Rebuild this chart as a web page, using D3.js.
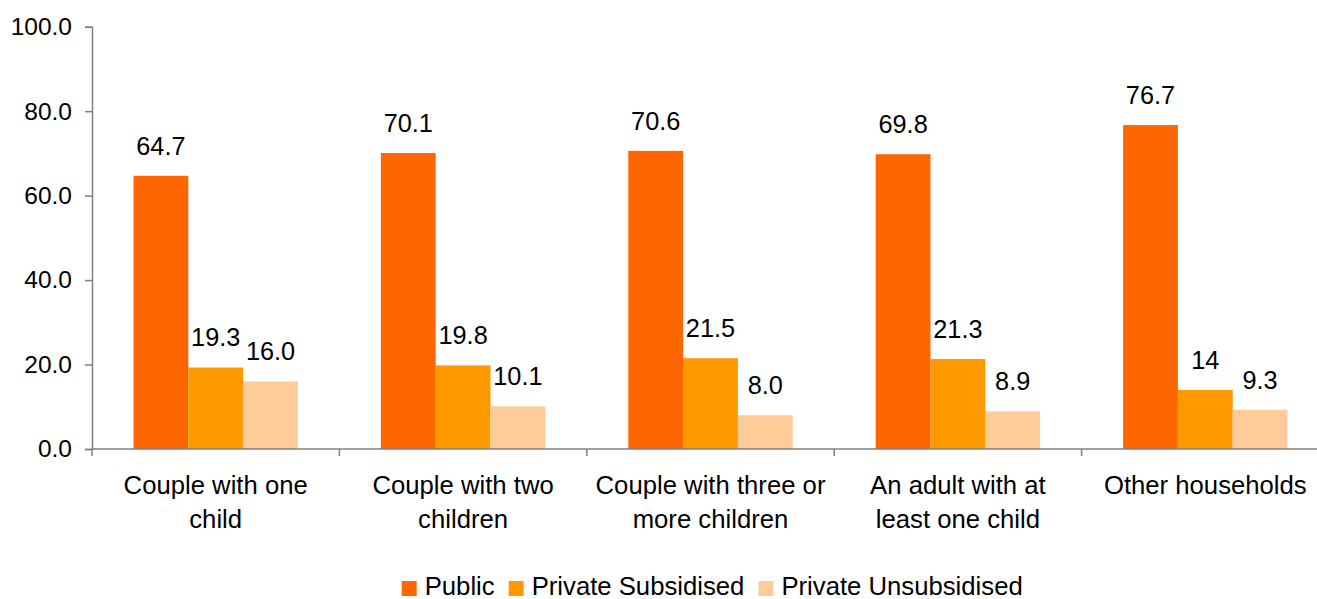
<!DOCTYPE html>
<html>
<head>
<meta charset="utf-8">
<script src="https://cdn.jsdelivr.net/npm/d3@7"></script>
<style>
  html, body { margin: 0; padding: 0; background: #fff; }
  svg { display: block; font-family: "Liberation Sans", Arial, sans-serif; }
</style>
</head>
<body>
<svg id="chart" width="1317" height="599"></svg>
<script>
// Household types (line breaks as shown under the axis)
const categories = [
  "Couple with one\nchild",
  "Couple with two\nchildren",
  "Couple with three or\nmore children",
  "An adult with at\nleast one child",
  "Other households"
];
const seriesNames = ["Public", "Private Subsidised", "Private Unsubsidised"];
const publicValues = [64.7, 70.1, 70.6, 69.8, 76.7];
const subsidisedValues = [19.3, 19.8, 21.5, 21.3, 14];
const unsubsidisedValues = [16.0, 10.1, 8.0, 8.9, 9.3];
// Labels as printed above each bar
const publicLabels = ["64.7", "70.1", "70.6", "69.8", "76.7"];
const subsidisedLabels = ["19.3", "19.8", "21.5", "21.3", "14"];
const unsubsidisedLabels = ["16.0", "10.1", "8.0", "8.9", "9.3"];
const yTicks = [0, 20, 40, 60, 80, 100];
const colors = ["#FF6600", "#FF9900", "#FFCC99"];

const series = [
  { name: seriesNames[0], values: publicValues, labels: publicLabels, color: colors[0] },
  { name: seriesNames[1], values: subsidisedValues, labels: subsidisedLabels, color: colors[1] },
  { name: seriesNames[2], values: unsubsidisedValues, labels: unsubsidisedLabels, color: colors[2] }
];

const svg = d3.select("#chart");
const plotLeft = 92, plotBottom = 449, plotTop = 26.7;
const bandWidth = 247.4;

const x0 = d3.scaleBand()
  .domain(categories)
  .range([plotLeft, plotLeft + bandWidth * categories.length])
  .padding(0);

const x1 = d3.scaleBand()
  .domain(seriesNames)
  .range([41.5, bandWidth - 41.5])
  .padding(0);

const y = d3.scaleLinear().domain([0, 100]).range([plotBottom, plotTop]);

const axisColor = "#808080";

// Y axis
const yAxis = svg.append("g")
  .attr("transform", `translate(${plotLeft},0)`)
  .call(d3.axisLeft(y).tickValues(yTicks).tickFormat(d3.format(".1f")).tickSize(7).tickPadding(13));
yAxis.select(".domain").attr("stroke", axisColor).attr("stroke-width", 1.5);
yAxis.selectAll(".tick line").attr("stroke", axisColor).attr("stroke-width", 1.5);
yAxis.selectAll(".tick text")
  .attr("fill", "#000")
  .style("font-size", "24.5px")
  .style("font-family", "'Liberation Sans', Arial, sans-serif");

// Bars
const groups = svg.append("g").selectAll("g")
  .data(categories)
  .join("g")
  .attr("transform", d => `translate(${x0(d)},0)`);

series.forEach((s) => {
  groups.append("rect")
    .attr("x", x1(s.name))
    .attr("width", x1.bandwidth())
    .attr("y", (d, i) => y(s.values[i]))
    .attr("height", (d, i) => y(0) - y(s.values[i]))
    .attr("fill", s.color);
  groups.append("text")
    .attr("x", x1(s.name) + x1.bandwidth() / 2)
    .attr("y", (d, i) => y(s.values[i]) - 21)
    .attr("text-anchor", "middle")
    .style("font-size", "25.3px")
    .attr("fill", "#000")
    .text((d, i) => s.labels[i]);
});

// X axis with ticks at category boundaries
const xAxisG = svg.append("g");
xAxisG.append("line")
  .attr("x1", plotLeft).attr("x2", 1317)
  .attr("y1", plotBottom).attr("y2", plotBottom)
  .attr("stroke", axisColor).attr("stroke-width", 1.5);
xAxisG.selectAll("line.tick")
  .data(categories)
  .join("line")
  .attr("class", "tick")
  .attr("x1", d => x0(d)).attr("x2", d => x0(d))
  .attr("y1", plotBottom).attr("y2", plotBottom + 7)
  .attr("stroke", axisColor).attr("stroke-width", 1.5);

// Category labels
const catLabels = svg.append("g").selectAll("text")
  .data(categories)
  .join("text")
  .attr("x", d => x0(d) + x0.bandwidth() / 2)
  .attr("y", 493.5)
  .attr("text-anchor", "middle")
  .style("font-size", "25.7px")
  .attr("fill", "#000");
catLabels.each(function(d) {
  const t = d3.select(this);
  d.split("\n").forEach((line, i) => {
    t.append("tspan")
      .attr("x", x0(d) + x0.bandwidth() / 2)
      .attr("dy", i === 0 ? 0 : 34.3)
      .text(line);
  });
});

// Legend
const legend = svg.append("g");
let lx = 401.7;
series.forEach((s) => {
  legend.append("rect")
    .attr("x", lx).attr("y", 581)
    .attr("width", 15).attr("height", 15)
    .attr("fill", s.color);
  const txt = legend.append("text")
    .attr("x", lx + 23)
    .attr("y", 594.5)
    .style("font-size", "25.7px")
    .attr("fill", "#000")
    .text(s.name);
  lx += 23 + txt.node().getComputedTextLength() + 14;
});
</script>
</body>
</html>
